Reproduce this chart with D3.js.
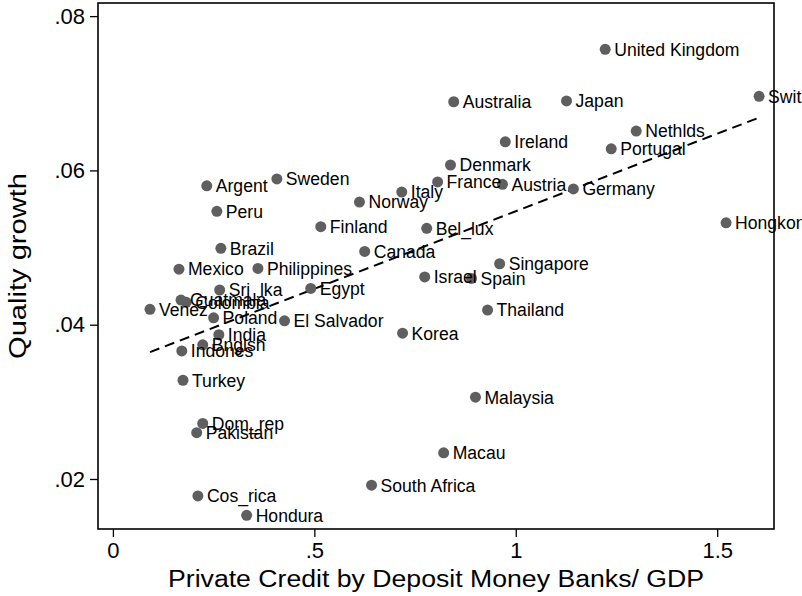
<!DOCTYPE html>
<html lang="en">
<head>
<meta charset="UTF-8">
<title>Quality growth vs private credit</title>
<script src="https://d3js.org/d3.v7.min.js"></script>
<style>
    body { margin: 0; background: #fff; }
    svg { display: block; font-family: "Liberation Sans", Arial, sans-serif; }
    .dot { fill: #5f5f5f; }
    .lbl { font-size: 17.6px; fill: #000; }
    .tick text { font-size: 22px; fill: #000; }
    .axis-title { font-size: 23px; fill: #000; }
</style>
</head>
<body>
<svg id="chart" width="802" height="596"></svg>
<script>
// Countries and their values
const countries = ["United Kingdom", "Switzerland", "Australia", "Japan", "Nethlds", "Ireland",
    "Portugal", "Denmark", "France", "Austria", "Germany", "Italy", "Sweden", "Argent", "Norway",
    "Peru", "Finland", "Bel_lux", "Hongkong", "Brazil", "Canada", "Mexico", "Philippines",
    "Singapore", "Israel", "Spain", "Sri_lka", "Egypt", "Guatmala", "Colombia", "Venez",
    "Thailand", "Poland", "El Salvador", "India", "Korea", "Bnglsh", "Indones", "Turkey",
    "Malaysia", "Dom_rep", "Pakistan", "Macau", "South Africa", "Cos_rica", "Hondura"];
const privateCredit = [1.222, 1.604, 0.846, 1.126, 1.299, 0.974,
    1.237, 0.838, 0.806, 0.967, 1.143, 0.717, 0.407, 0.233, 0.612,
    0.258, 0.516, 0.779, 1.522, 0.268, 0.625, 0.164, 0.360,
    0.960, 0.774, 0.890, 0.265, 0.491, 0.169, 0.182, 0.092,
    0.930, 0.250, 0.426, 0.263, 0.719, 0.223, 0.171, 0.174,
    0.900, 0.223, 0.208, 0.821, 0.642, 0.211, 0.332];
const qualityGrowth = [0.0757, 0.0696, 0.0689, 0.0690, 0.0651, 0.0637,
    0.0628, 0.0607, 0.0585, 0.0582, 0.0576, 0.0572, 0.0589, 0.0580, 0.0559,
    0.0547, 0.0527, 0.0525, 0.0532, 0.0499, 0.0495, 0.0472, 0.0473,
    0.0479, 0.0462, 0.0460, 0.0445, 0.0447, 0.0432, 0.0429, 0.0420,
    0.0419, 0.0409, 0.0405, 0.0387, 0.0389, 0.0374, 0.0366, 0.0328,
    0.0306, 0.0272, 0.0260, 0.0234, 0.0192, 0.0178, 0.0153];
const xTicks = [0, 0.5, 1, 1.5];
const yTicks = [0.02, 0.04, 0.06, 0.08];

const svg = d3.select("#chart");
const margin = { top: 3, right: 28, bottom: 67, left: 98 };
const width = +svg.attr("width") - margin.left - margin.right;
const height = +svg.attr("height") - margin.top - margin.bottom;

const x = d3.scaleLinear().domain([-0.037, 1.641]).range([0, width]);
const y = d3.scaleLinear().domain([0.01352, 0.0817]).range([height, 0]);

const g = svg.append("g").attr("transform", `translate(${margin.left},${margin.top})`);

const points = countries.map((c, i) => ({ name: c, x: privateCredit[i], y: qualityGrowth[i] }));

// least squares fit line over the range of the data
const mx = d3.mean(points, d => d.x), my = d3.mean(points, d => d.y);
const slope = d3.sum(points, d => (d.x - mx) * (d.y - my)) / d3.sum(points, d => (d.x - mx) ** 2);
const intercept = my - slope * mx;
const xr = d3.extent(points, d => d.x);

g.append("line")
    .attr("x1", x(xr[0])).attr("y1", y(intercept + slope * xr[0]))
    .attr("x2", x(xr[1])).attr("y2", y(intercept + slope * xr[1]))
    .attr("stroke", "#000").attr("stroke-width", 2).attr("stroke-dasharray", "10,6");

g.selectAll(".dot").data(points).enter().append("circle")
    .attr("class", "dot")
    .attr("cx", d => x(d.x)).attr("cy", d => y(d.y)).attr("r", 5.5);

g.selectAll(".lbl").data(points).enter().append("text")
    .attr("class", "lbl")
    .attr("x", d => x(d.x) + 9).attr("y", d => y(d.y))
    .attr("dy", "0.36em")
    .text(d => d.name);

// frame
g.append("rect").attr("width", width).attr("height", height)
    .attr("fill", "none").attr("stroke", "#000").attr("stroke-width", 1.6);

const fmt = d => d === 0 ? "0" : String(d).replace(/^0\./, ".");
const xAxis = g.append("g").attr("transform", `translate(0,${height})`)
    .call(d3.axisBottom(x).tickValues(xTicks).tickSize(8).tickPadding(5).tickFormat(fmt));
const yAxis = g.append("g")
    .call(d3.axisLeft(y).tickValues(yTicks).tickSize(8).tickPadding(5).tickFormat(fmt));
[xAxis, yAxis].forEach(a => {
    a.select(".domain").remove();
    a.selectAll(".tick line").attr("stroke", "#000").attr("stroke-width", 1.3);
    a.attr("font-family", null);
});

g.append("text").attr("class", "axis-title")
    .attr("x", width / 2).attr("y", height + 58)
    .attr("text-anchor", "middle")
    .attr("textLength", 536).attr("lengthAdjust", "spacingAndGlyphs")
    .text("Private Credit by Deposit Money Banks/ GDP");

g.append("text").attr("class", "axis-title")
    .attr("transform", "rotate(-90)")
    .attr("x", -height / 2).attr("y", -72)
    .attr("text-anchor", "middle")
    .attr("textLength", 186).attr("lengthAdjust", "spacingAndGlyphs")
    .text("Quality growth");
</script>
</body>
</html>
